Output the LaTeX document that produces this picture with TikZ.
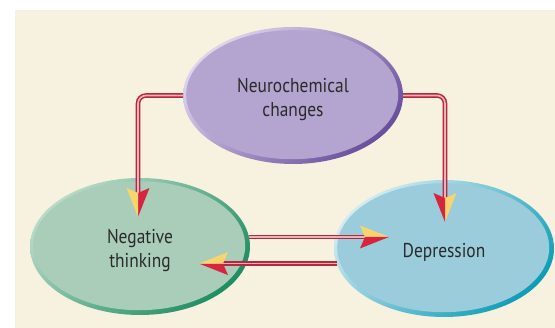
\documentclass[tikz,border=0pt]{standalone}
\usepackage{fontspec}
\setmainfont{PT Sans}[FakeStretch=0.87]
\usetikzlibrary{shapes.geometric,calc}
\definecolor{bgcream}{HTML}{F7F1DF}
\definecolor{txt}{HTML}{2A2A2A}
\definecolor{nfill}{HTML}{B3A5CF}
\definecolor{nlight}{HTML}{DDD5EC}
\definecolor{ndark}{HTML}{6A4F9E}
\definecolor{gfill}{HTML}{AACDB9}
\definecolor{glight}{HTML}{B9DAC8}
\definecolor{gdark}{HTML}{1F8E62}
\definecolor{bfill}{HTML}{9ACCDB}
\definecolor{blight}{HTML}{D2EAF1}
\definecolor{bdark}{HTML}{0E9DB7}
\definecolor{linered}{HTML}{B5283E}
\definecolor{linepink}{HTML}{EBB2BA}
\definecolor{dred}{HTML}{D6263F}
\definecolor{dyellow}{HTML}{F8D46E}
\newcommand{\celltxt}[1]{\raisebox{-4.5pt}[\height][\depth]{\begin{tabular}{@{}c@{}}#1\end{tabular}}}
\begin{document}
\begin{tikzpicture}[x=1pt,y=-1pt,
  ell/.style n args={3}{ellipse, minimum width=220pt, minimum height=137pt,
    inner sep=0pt, outer sep=0pt, text=txt,
    font=\fontsize{20}{24}\selectfont,
    path picture={
      \shade[left color=#1, right color=#2, shading angle=45]
        (path picture bounding box.south west) rectangle (path picture bounding box.north east);
      \fill[#3] ($(path picture bounding box.center)+(-0.8,-0.8)$)
        ellipse [x radius=106pt, y radius=64.5pt];
    }},
  conn/.style={draw=linered, line width=1.5pt, double=linepink,
    double distance=1.6pt, rounded corners=8pt},
  pics/dart/.style 2 args={code={
    \fill[#1] (0,0) -- (-29,-11.5) -- (-24,0) -- cycle;
    \fill[#2] (0,0) -- (-29,11.5) -- (-24,0) -- cycle;
  }}]
\useasboundingbox (0,0) rectangle (555,328);
\fill[bgcream] (15,10) rectangle (555,328);

\node[ell={nlight}{ndark}{nfill}] (neuro) at (293,95.5) {\celltxt{Neurochemical\\changes}};
\node[ell={glight}{gdark}{gfill}] (neg) at (140,246.5) {\celltxt{Negative\\thinking}};
\node[ell={blight}{bdark}{bfill}] (dep) at (444,248.5) {\celltxt{Depression}};

\coordinate (t1) at ($(neg.center)+(-2,-29.5)$);
\coordinate (t2) at ($(dep.center)+(1,-26.5)$);
\coordinate (t3) at ($(neg.5 -| dep.center)+(-55,0)$);
\coordinate (t4) at ($(dep.188 -| neg.center)+(59,0)$);

\draw[conn] (neuro.west) -| ($(t1)+(0,-22)$);
\draw[conn] (neuro.east) -| ($(t2)+(0,-22)$);
\draw[conn] (neg.5) -- ($(t3)+(-22,0)$);
\draw[conn] (dep.188) -- ($(t4)+(22,0)$);

\pic[rotate=-90] at (t1) {dart={dred}{dyellow}};
\pic[rotate=-90] at (t2) {dart={dyellow}{dred}};
\pic at (t3) {dart={dyellow}{dred}};
\pic[rotate=180] at (t4) {dart={dred}{dyellow}};
\end{tikzpicture}
\end{document}
